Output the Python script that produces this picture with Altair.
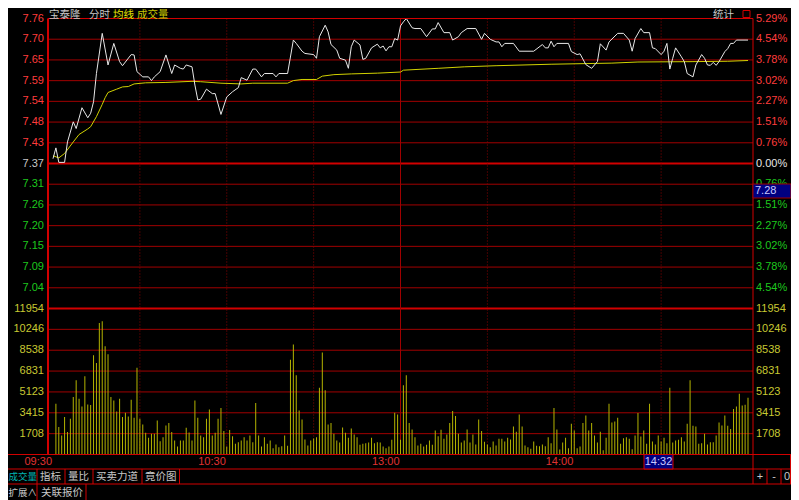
import altair as alt
import pandas as pd

# ---------------- data ----------------
prev_close = 7.37
price_top = 7.76
price_bottom = 6.98
vol_max = 11954

price_minutes = [0, 1, 2, 4, 5, 7, 8, 10, 12, 13, 14, 15, 17, 19, 21, 23, 24, 27, 28, 29,
                 31, 33, 34, 35, 37, 39, 41, 42, 44, 45, 46, 48, 49, 50, 51, 53, 55, 56, 58, 60,
                 62, 64, 65, 67, 69, 70, 72, 73, 76, 77, 78, 81, 83, 84, 86, 87, 90, 91, 92, 94,
                 95, 96, 98, 99, 101, 102, 103, 104, 106, 107, 108, 110, 112, 113, 114, 115, 116, 117, 118, 119,
                 120, 121, 122, 124, 125, 127, 129, 131, 132, 133, 135, 137, 138, 140, 141, 143, 146, 148, 149, 151,
                 153, 154, 155, 156, 159, 161, 166, 169, 170, 171, 172, 173, 174, 178, 179, 181, 182, 184, 186, 188,
                 189, 191, 192, 195, 197, 199, 200, 201, 203, 204, 206, 207, 208, 210, 211, 212, 213, 214, 215, 217,
                 218, 219, 221, 222, 224, 225, 226, 227, 228, 229, 230, 232, 233, 234, 235, 236, 240]
price_values = [7.383, 7.412, 7.373, 7.373, 7.428, 7.482, 7.464, 7.520, 7.493, 7.505, 7.536, 7.612, 7.720, 7.635, 7.693, 7.644, 7.633, 7.663, 7.662, 7.617,
                7.603, 7.603, 7.593, 7.603, 7.617, 7.662, 7.612, 7.635, 7.626, 7.624, 7.635, 7.630, 7.581, 7.541, 7.543, 7.570, 7.558, 7.558, 7.502, 7.549,
                7.563, 7.574, 7.601, 7.594, 7.624, 7.624, 7.603, 7.612, 7.612, 7.603, 7.612, 7.612, 7.702, 7.693, 7.672, 7.666, 7.663, 7.653, 7.711, 7.742,
                7.724, 7.690, 7.675, 7.653, 7.648, 7.626, 7.684, 7.702, 7.689, 7.650, 7.653, 7.681, 7.691, 7.681, 7.686, 7.673, 7.684, 7.684, 7.706, 7.702,
                7.740, 7.751, 7.760, 7.735, 7.733, 7.733, 7.711, 7.732, 7.732, 7.749, 7.722, 7.722, 7.702, 7.711, 7.722, 7.733, 7.733, 7.704, 7.720, 7.704,
                7.697, 7.697, 7.684, 7.693, 7.693, 7.672, 7.672, 7.690, 7.681, 7.681, 7.699, 7.684, 7.693, 7.693, 7.671, 7.663, 7.665, 7.636, 7.626, 7.644,
                7.692, 7.675, 7.697, 7.720, 7.720, 7.702, 7.672, 7.706, 7.733, 7.722, 7.722, 7.681, 7.679, 7.663, 7.672, 7.693, 7.624, 7.653, 7.681, 7.657,
                7.644, 7.612, 7.603, 7.635, 7.663, 7.653, 7.635, 7.634, 7.642, 7.634, 7.644, 7.671, 7.679, 7.693, 7.693, 7.702, 7.702]

avg_minutes = [0, 2, 4, 7, 9, 12, 13, 15, 17, 18, 19, 22, 24, 26, 28, 32, 39, 48, 51, 58,
               65, 69, 81, 83, 86, 91, 93, 97, 103, 112, 120, 121, 133, 142, 153, 172, 193, 202, 221, 233, 240]
avg_values = [7.391, 7.385, 7.397, 7.428, 7.448, 7.463, 7.469, 7.496, 7.529, 7.547, 7.561, 7.570, 7.576, 7.577, 7.584, 7.587, 7.588, 7.591, 7.590, 7.586,
              7.584, 7.586, 7.586, 7.593, 7.596, 7.596, 7.605, 7.609, 7.611, 7.613, 7.616, 7.621, 7.626, 7.630, 7.633, 7.637, 7.640, 7.643, 7.644, 7.645, 7.647]

# one bar per minute, 09:31 ... 15:00
volumes = [4157, 2243, 1559, 3063, 1832, 2926, 4704, 6072, 4567, 3938,
           6400, 4103, 4048, 8123, 7494, 10776, 10913, 8861, 8205, 4704,
           4431, 3528, 4567, 3063, 3419, 3118, 4485, 3009, 7111, 2926,
           2462, 1778, 1368, 1696, 1696, 2790, 1094, 1422, 2379, 2571,
           1832, 1149, 656, 1149, 1149, 2188, 1805, 1149, 4431, 3009,
           1559, 1422, 2926, 3692, 1559, 1778, 2926, 3802, 1915, 656,
           1997, 1504, 875, 1012, 1149, 1422, 1149, 1559, 1012, 4212,
           1559, 656, 1422, 875, 1149, 520, 821, 602, 684, 1559,
           711, 7767, 8998, 6482, 3610, 2872, 1231, 738, 1149, 1313,
           1422, 5470, 8342, 5251, 2462, 2571, 1696, 1149, 985, 2215,
           1778, 1368, 2133, 1641, 1422, 793, 875, 930, 985, 1368,
           930, 1012, 985, 656, 520, 656, 1203, 3419, 3282, 1203,
           5661, 6482, 2571, 2051, 1422, 738, 875, 656, 793, 1149,
           793, 1969, 1504, 2024, 1285, 1641, 2571, 3556, 3145, 1696,
           985, 1149, 2051, 985, 1641, 821, 2872, 1915, 1039, 821,
           602, 1067, 738, 1285, 1285, 1067, 1368, 1231, 2297, 1860,
           3282, 2297, 738, 602, 465, 1067, 711, 684, 821, 684,
           1422, 930, 3802, 2051, 410, 985, 1368, 520, 2516, 1969,
           520, 656, 2571, 3200, 1969, 2571, 1559, 985, 1860, 356,
           1368, 4157, 2626, 2708, 3009, 875, 1340, 1422, 1285, 438,
           1559, 3391, 1477, 1969, 875, 4157, 1067, 821, 1559, 1067,
           1368, 930, 5470, 985, 1149, 1203, 1422, 1067, 2516, 6072,
           2352, 2297, 875, 930, 1696, 821, 1012, 1012, 1559, 2626,
           2379, 3200, 2352, 2079, 3720, 3938, 4978, 4020, 4075, 4650]
vol_minutes = list(range(1, 241))

price_labels = ["7.76", "7.70", "7.65", "7.59", "7.54", "7.48", "7.43", "7.37",
                "7.31", "7.26", "7.20", "7.15", "7.09", "7.04"]
pct_labels = ["5.29%", "4.54%", "3.78%", "3.02%", "2.27%", "1.51%", "0.76%", "0.00%",
              "0.76%", "1.51%", "2.27%", "3.02%", "3.78%", "4.54%"]
vol_labels = ["11954", "10246", "8538", "6831", "5123", "3415", "1708"]
time_minutes = [0, 60, 120, 180]
time_labels = ["09:30", "10:30", "13:00", "14:00"]
dotted_minutes = [30, 60, 90, 150, 180, 210]
solid_minutes = [120]

# ---------------- styling ----------------
W, H = 705, 436
PRICE_PX = 290
RED = "#ff3c3c"
GREEN = "#1ec81e"
GRAY = "#c8c8c8"
YEL = "#c8c832"
GRID = "#a00000"
GRID_DARK = "#8c0000"
FRAME = "#d20000"
NUM_FONT = "Liberation Sans"
CJK = "Noto Sans CJK SC"

X = alt.Scale(domain=[0, 240], nice=False, zero=False)
PY = alt.Scale(domain=[price_bottom, price_top], range=[PRICE_PX, 0], nice=False, zero=False)
VY = alt.Scale(domain=[0, vol_max], range=[H, PRICE_PX], nice=False, zero=True)

step = (price_top - prev_close) / 7
levels = [price_top - i * step for i in range(14)]
lvl_color = [RED if i < 7 else (GRAY if i == 7 else GREEN) for i in range(14)]
pct_color = [RED if i < 7 else ("#e6e6e6" if i == 7 else GREEN) for i in range(14)]
price_tick_df = pd.DataFrame({"p": levels, "lab": price_labels, "c": lvl_color,
                              "pl": pct_labels, "pc": pct_color})
grid_df = pd.DataFrame({"p": [price_top - i * step for i in range(15) if i not in (7, 14)]})
vol_levels = [vol_max * (7 - i) / 7 for i in range(7)]
vol_tick_df = pd.DataFrame({"v": vol_levels, "lab": vol_labels})
vgrid_df = pd.DataFrame({"v": vol_levels[1:]})

line_df = pd.DataFrame({"m": price_minutes, "p": price_values})
avg_df = pd.DataFrame({"m": avg_minutes, "p": avg_values})
vol_df = pd.DataFrame({"m": vol_minutes, "v": volumes})
time_df = pd.DataFrame({"m": time_minutes, "lab": time_labels})
dot_df = pd.DataFrame({"m": dotted_minutes})
solid_df = pd.DataFrame({"m": solid_minutes})
one = pd.DataFrame({"d": [0]})


def hrule(y, x1, x2, color=GRID, w=1):
    return alt.Chart(one).mark_rule(color=color, strokeWidth=w).encode(
        x=alt.value(x1), x2=alt.value(x2), y=alt.value(y))


def vrule(x, y1, y2, color=GRID, w=1):
    return alt.Chart(one).mark_rule(color=color, strokeWidth=w).encode(
        x=alt.value(x), y=alt.value(y1), y2=alt.value(y2))


def label(txt, x, y, color=GRAY, size=11, align="left", font=CJK):
    return alt.Chart(one).mark_text(text=txt, align=align, baseline="middle", font=font,
                                    fontSize=size, color=color).encode(
        x=alt.value(x), y=alt.value(y))


layers = []
# horizontal grid (price)
layers.append(alt.Chart(grid_df).mark_rule(color=GRID, strokeWidth=1).encode(
    y=alt.Y("p:Q", scale=PY, axis=None), x=alt.value(0), x2=alt.value(W)))
# zero line (prev close)
layers.append(alt.Chart(pd.DataFrame({"p": [prev_close]})).mark_rule(color=FRAME, strokeWidth=2).encode(
    y=alt.Y("p:Q", scale=PY, axis=None), x=alt.value(0), x2=alt.value(W)))
# volume grid
layers.append(alt.Chart(vgrid_df).mark_rule(color=GRID, strokeWidth=1).encode(
    y=alt.Y("v:Q", scale=VY, axis=None), x=alt.value(0), x2=alt.value(W)))
layers.append(alt.Chart(pd.DataFrame({"v": [vol_max]})).mark_rule(color=FRAME, strokeWidth=2).encode(
    y=alt.Y("v:Q", scale=VY, axis=None), x=alt.value(0), x2=alt.value(W)))
# vertical grid
layers.append(alt.Chart(dot_df).mark_rule(color=GRID_DARK, strokeWidth=1, strokeDash=[1, 2]).encode(
    x=alt.X("m:Q", scale=X, axis=None), y=alt.value(0), y2=alt.value(H)))
layers.append(alt.Chart(solid_df).mark_rule(color=GRID, strokeWidth=1).encode(
    x=alt.X("m:Q", scale=X, axis=None), y=alt.value(0), y2=alt.value(H)))

# volume bars
layers.append(alt.Chart(vol_df).mark_bar(size=1, color="#b4b400").encode(
    x=alt.X("m:Q", scale=X, axis=None), y=alt.Y("v:Q", scale=VY, axis=None)))
# average price line
layers.append(alt.Chart(avg_df).mark_line(color="#d2d200", strokeWidth=1).encode(
    x=alt.X("m:Q", scale=X, axis=None), y=alt.Y("p:Q", scale=PY, axis=None)))
# price line
layers.append(alt.Chart(line_df).mark_line(color="#e8e8e8", strokeWidth=1).encode(
    x=alt.X("m:Q", scale=X, axis=None), y=alt.Y("p:Q", scale=PY, axis=None)))

# frame
layers.append(hrule(0, 0, W, FRAME, 1))
layers.append(vrule(0, 0, H, FRAME, 2))
layers.append(vrule(W, 0, 465.5, FRAME, 1))
layers.append(hrule(H, -48, 743, FRAME, 1))
layers.append(hrule(450.5, -48, 743, FRAME, 1))
layers.append(hrule(465.5, -48, 743, FRAME, 1))
layers.append(vrule(742.5, H, 465.5, FRAME, 1))
for px in (719, 733):
    layers.append(vrule(px, 450.5, 465.5, FRAME, 1))
for px in (-11, 17, 45, 94, 131.5):
    layers.append(vrule(px, 450.5, 465.5, FRAME, 1))
for px in (-11, 38):
    layers.append(vrule(px, 465.5, 482, FRAME, 1))

# tick labels
layers.append(alt.Chart(price_tick_df).mark_text(align="right", baseline="middle", font=NUM_FONT,
                                                 fontSize=11, dx=-4).encode(
    y=alt.Y("p:Q", scale=PY, axis=None), x=alt.value(0), text="lab:N",
    color=alt.Color("c:N", scale=None)))
layers.append(alt.Chart(price_tick_df).mark_text(align="left", baseline="middle", font=NUM_FONT,
                                                 fontSize=11, dx=3).encode(
    y=alt.Y("p:Q", scale=PY, axis=None), x=alt.value(W), text="pl:N",
    color=alt.Color("pc:N", scale=None)))
layers.append(alt.Chart(vol_tick_df).mark_text(align="right", baseline="middle", font=NUM_FONT,
                                               fontSize=11, dx=-4, color=YEL).encode(
    y=alt.Y("v:Q", scale=VY, axis=None), x=alt.value(0), text="lab:N"))
layers.append(alt.Chart(vol_tick_df).mark_text(align="left", baseline="middle", font=NUM_FONT,
                                               fontSize=11, dx=3, color=YEL).encode(
    y=alt.Y("v:Q", scale=VY, axis=None), x=alt.value(W), text="lab:N"))
layers.append(alt.Chart(time_df).mark_text(align="right", baseline="middle", font=NUM_FONT,
                                           fontSize=11, dx=-1, color="#e03232").encode(
    x=alt.X("m:Q", scale=X, axis=None), y=alt.value(443.5), text="lab:N"))

# cursor boxes
layers.append(alt.Chart(one).mark_rect(fill="#000080", stroke=GRID, strokeWidth=1).encode(
    x=alt.value(W), x2=alt.value(743), y=alt.value(165.5), y2=alt.value(179.5)))
layers.append(label("7.28", 707, 172.5, "#c8c8ff", 11, "left", NUM_FONT))
layers.append(alt.Chart(one).mark_rect(fill="#000080", stroke=FRAME, strokeWidth=1).encode(
    x=alt.value(596), x2=alt.value(625), y=alt.value(436), y2=alt.value(450.5)))
layers.append(label("14:32", 610.5, 443.5, "#c8c8ff", 11, "center", NUM_FONT))

# header
HY = -4
layers.append(label("宝泰隆", 1, HY, GRAY, 10.5))
layers.append(label("分时", 41, HY, GRAY, 10.5))
layers.append(label("均线", 65, HY, "#e6e600", 10.5))
layers.append(label("成交量", 89, HY, "#c8c800", 10.5))
layers.append(label("统计", 665, HY, GRAY, 10.5))
layers.append(alt.Chart(one).mark_rect(fill="#000000", stroke=FRAME, strokeWidth=1).encode(
    x=alt.value(695), x2=alt.value(702), y=alt.value(-8), y2=alt.value(-1)))

# bottom tabs
layers.append(label("成交量", -39.5, 458, "#00b4b4", 9.5))
layers.append(label("指标", -8, 458, GRAY, 10.5))
layers.append(label("量比", 20, 458, GRAY, 10.5))
layers.append(label("买卖力道", 48, 458, GRAY, 10.5))
layers.append(label("竟价图", 97, 458, GRAY, 10.5))
layers.append(label("扩展∧", -39.5, 474, GRAY, 9.5))
layers.append(label("关联报价", -7, 474, GRAY, 10.5))
layers.append(label("+", 712, 458, GRAY, 11, "center", NUM_FONT))
layers.append(label("-", 726, 458, GRAY, 11, "center", NUM_FONT))
layers.append(label("0", 739, 458, GRAY, 11, "center", NUM_FONT))

chart = alt.layer(*layers).resolve_scale(y="independent").properties(
    width=W, height=H,
    autosize=alt.AutoSizeParams(type="none"),
    padding={"left": 40, "top": 10.5, "right": 38, "bottom": 45.5},
    background="#000000",
).configure_view(strokeWidth=0)

chart.save("out.html", embed_options={"renderer": "svg", "actions": False})
